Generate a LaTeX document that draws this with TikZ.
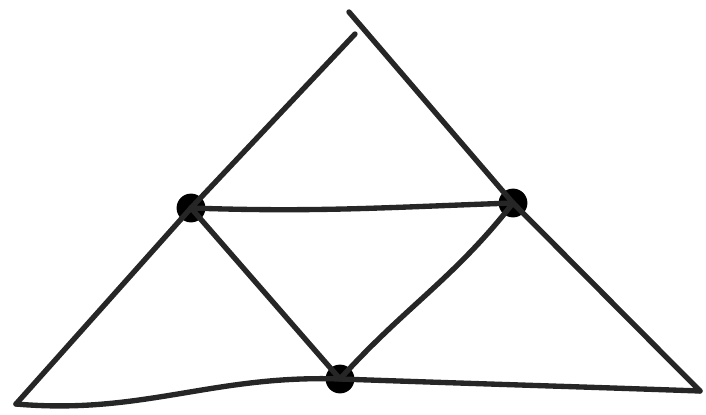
\documentclass[tikz,border=0pt]{standalone}
\usepackage{tikz}
\usetikzlibrary{positioning,calc}

\begin{document}
\begin{tikzpicture}[
  x=0.025cm, y=-0.025cm,
  stroke/.style={line width=3.8pt, draw=black!85, line cap=round, line join=round},
  dot/.style={circle, fill=black, minimum size=0.72cm, inner sep=0pt}
]
  \useasboundingbox (0,0) rectangle (706,415);
  % corners
  \coordinate (apex) at (349,12);
  \coordinate (tl) at (355,34);
  \coordinate (bl) at (16,404);
  \coordinate (br) at (700,391);
  % midpoints
  \node[dot] (ml) at (191,208) {};
  \node[dot] (mr) at (513,203) {};
  \node[dot] (mb) at (340,379) {};

  % outer triangle
  \draw[stroke] (bl) -- (ml.center) -- (tl);
  \draw[stroke] (apex) -- (mr.center) -- (br);
  \draw[stroke] (bl) to[out=-5,in=178] (mb.center) to[out=-2,in=178] (br);
  % inner triangle
  \draw[stroke] (ml.center) to[out=-2,in=182] (mr.center);
  \draw[stroke] (ml.center) -- (mb.center);
  \draw[stroke] (mb.center) to[out=48,in=-128] (mr.center);
\end{tikzpicture}
\end{document}
